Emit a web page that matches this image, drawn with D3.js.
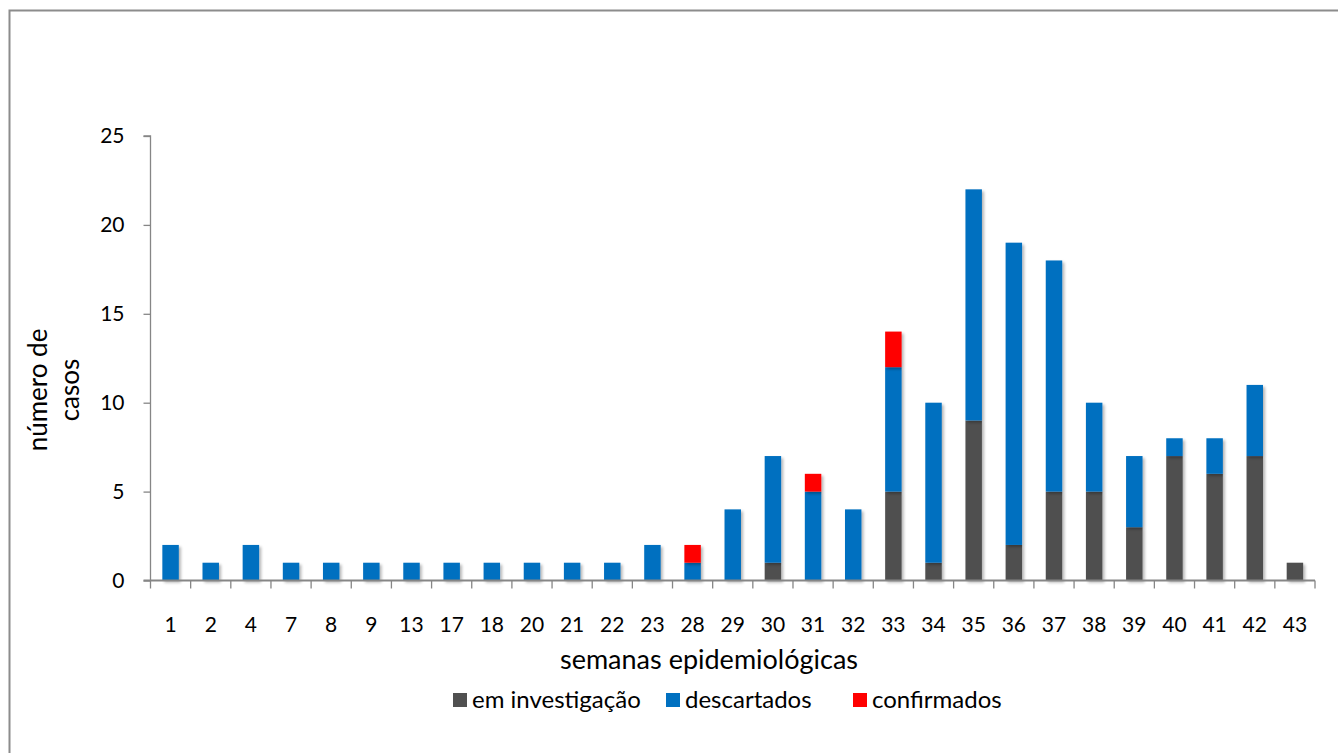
<!DOCTYPE html>
<html><head><meta charset="utf-8">
<script src="https://cdn.jsdelivr.net/npm/d3@7"></script>
<style>body{margin:0;background:#fff}svg{display:block}text{font-family:Lato,"Open Sans",sans-serif;fill:#000}</style>
</head><body><svg id="c" width="1338" height="753"></svg>
<script>
const categories = ["1","2","4","7","8","9","13","17","18","20","21","22","23","28","29","30","31","32","33","34","35","36","37","38","39","40","41","42","43"];
const emInvestigacao = [0,0,0,0,0,0,0,0,0,0,0,0,0,0,0,1,0,0,5,1,9,2,5,5,3,7,6,7,1];
const descartados    = [2,1,2,1,1,1,1,1,1,1,1,1,2,1,4,6,5,4,7,9,13,17,13,5,4,1,2,4,0];
const confirmados    = [0,0,0,0,0,0,0,0,0,0,0,0,0,1,0,0,1,0,2,0,0,0,0,0,0,0,0,0,0];
const seriesNames = ["em investigação","descartados","confirmados"];
const colors = ["#505050","#0070C0","#FF0000"];
const yTicks = [0,5,10,15,20,25];

const svg = d3.select("#c");
svg.append("rect").attr("x",9.5).attr("y",10.5).attr("width",1340).attr("height",760).attr("fill","none").attr("stroke","#8c8c8c").attr("stroke-width",2);

const defs = svg.append("defs");
const f = defs.append("filter").attr("id","sh").attr("x","-30%").attr("y","-10%").attr("width","160%").attr("height","130%");
f.append("feGaussianBlur").attr("in","SourceAlpha").attr("stdDeviation",1.5).attr("result","b");
f.append("feOffset").attr("in","b").attr("dx",1.5).attr("dy",1.5).attr("result","o");
f.append("feComponentTransfer").attr("in","o").attr("result","o2").append("feFuncA").attr("type","linear").attr("slope",0.3);
const m = f.append("feMerge"); m.append("feMergeNode").attr("in","o2"); m.append("feMergeNode").attr("in","SourceGraphic");

const x = d3.scaleBand().domain(categories).range([150.5,1315]).paddingInner(0.59).paddingOuter(0.295);
const xTickScale = d3.scaleBand().domain(categories).range([150.5,1315]);
const y = d3.scaleLinear().domain([0,25]).range([580.5,136]);

const data = categories.map((c,i)=>({cat:c, "em investigação":emInvestigacao[i], "descartados":descartados[i], "confirmados":confirmados[i]}));
const stacked = d3.stack().keys(seriesNames)(data);

const g = svg.append("g");
stacked.forEach((s,si)=>{
  g.append("g").attr("fill",colors[si]).attr("filter","url(#sh)").selectAll("rect").data(s.filter(d=>d[1]>d[0])).join("rect")
   .attr("x",d=>x(d.data.cat)).attr("width",x.bandwidth())
   .attr("y",d=>y(d[1])).attr("height",d=>y(d[0])-y(d[1]));
});

// y axis
const ya = svg.append("g").attr("transform","translate(150.5,0)").call(d3.axisLeft(y).tickValues(yTicks).tickSize(7).tickPadding(19));
ya.select(".domain").attr("stroke","#868686").attr("stroke-width",1.3).attr("d","M-7,136H0V580.5");
ya.selectAll(".tick line").attr("stroke","#868686").attr("stroke-width",1.3);
ya.selectAll(".tick text").style("font-size","21px").attr("fill","#000");

// x axis
const xa = svg.append("g").attr("transform","translate(0,580.5)");
xa.append("line").attr("x1",143.5).attr("x2",1315).attr("stroke","#868686").attr("stroke-width",2);
const bounds = categories.map(c=>xTickScale(c)).concat([1315]);
xa.selectAll("line.t").data(bounds).join("line").attr("class","t").attr("x1",d=>d).attr("x2",d=>d).attr("y1",0).attr("y2",8).attr("stroke","#868686").attr("stroke-width",1.3);
xa.selectAll("text").data(categories).join("text").attr("x",d=>xTickScale(d)+xTickScale.bandwidth()/2).attr("y",51).attr("text-anchor","middle").style("font-size","21px").text(d=>d);

svg.append("text").attr("x",709).attr("y",669).attr("text-anchor","middle").style("font-size","27px").text("semanas epidemiológicas");
const yt = svg.append("text").attr("transform","translate(47,390) rotate(-90)").attr("text-anchor","middle").style("font-size","26px");
yt.append("tspan").attr("x",0).attr("dy",0).text("número de");
yt.append("tspan").attr("x",0).attr("dy",32).text("casos");

// legend
const legX = [453,666,853];
const lg = svg.append("g");
seriesNames.forEach((n,i)=>{
  lg.append("rect").attr("x",legX[i]).attr("y",693).attr("width",14).attr("height",14).attr("fill",colors[i]);
  lg.append("text").attr("x",legX[i]+19).attr("y",708).style("font-size","24px").text(n);
});
</script></body></html>
